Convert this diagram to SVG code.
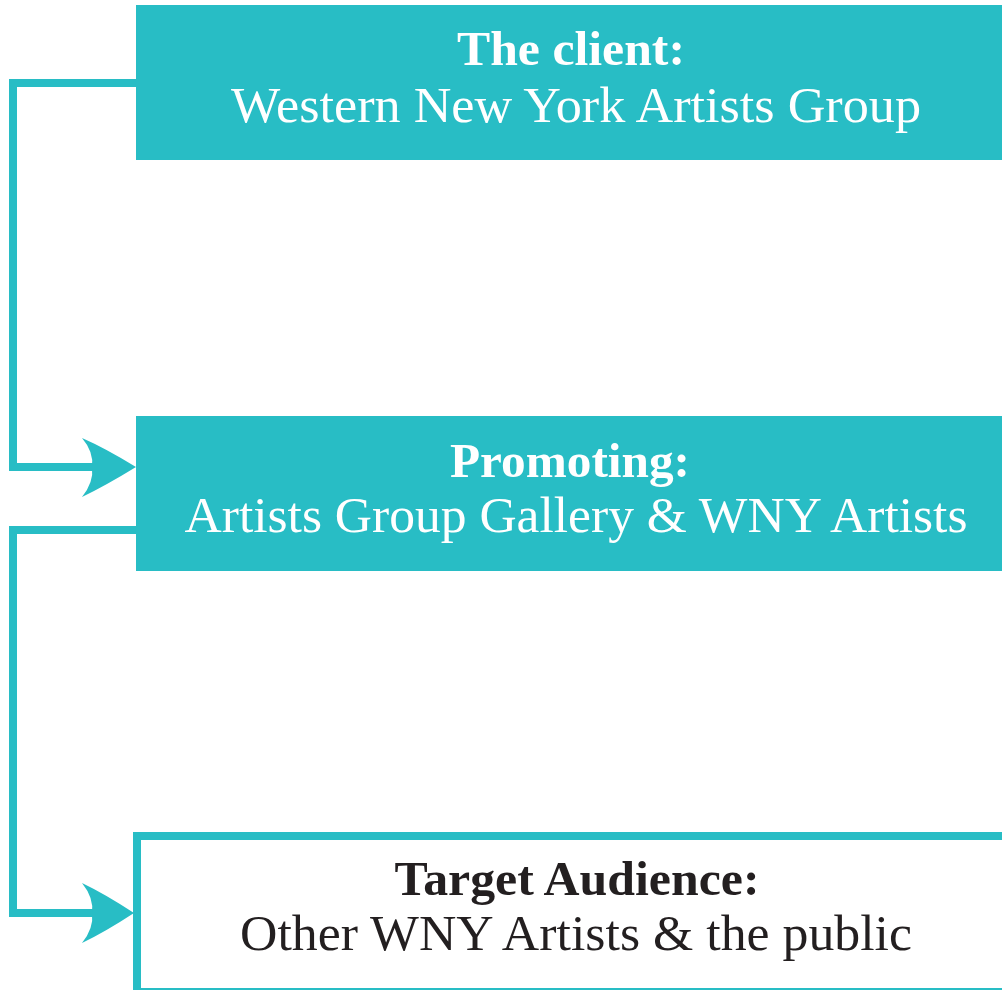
<svg xmlns="http://www.w3.org/2000/svg" width="1002" height="990" viewBox="0 0 1002 990">
<style>
.box{fill:#28bdc5}
.obox{fill:#fff;stroke:#28bdc5;stroke-width:8}
.t{font-family:"Liberation Serif",serif;text-anchor:middle}
.b{font-weight:bold;font-size:48px}
.r{font-size:51px}
.w{fill:#fff}
.k{fill:#231f20}
.con{fill:none;stroke:#28bdc5;stroke-width:8}
.ah{fill:#28bdc5}
</style>
<rect width="1002" height="990" fill="#fff"/>
<g id="connectors">
<polyline class="con" points="136,83 13,83 13,467 96,467"/>
<path class="ah" d="M136,467 Q105,448 82,438 Q94,452 92,467 Q94,482 82,497 Q105,486 136,467 Z"/>
<polyline class="con" points="136,530 13,530 13,913 96,913"/>
<path class="ah" d="M134,913 Q105,894 82,883 Q94,898 92,913 Q94,928 82,943 Q105,932 134,913 Z"/>
</g>
<g id="client">
<rect class="box" x="136" y="5" width="870" height="155"/>
<text class="t b w" x="571" y="65" textLength="228" lengthAdjust="spacingAndGlyphs">The client:</text>
<text class="t r w" x="576" y="122" textLength="690" lengthAdjust="spacingAndGlyphs">Western New York Artists Group</text>
</g>
<g id="promoting">
<rect class="box" x="136" y="416" width="870" height="155"/>
<text class="t b w" x="570" y="477" textLength="240" lengthAdjust="spacingAndGlyphs">Promoting:</text>
<text class="t r w" x="576" y="532" textLength="783" lengthAdjust="spacingAndGlyphs">Artists Group Gallery &amp; WNY Artists</text>
</g>
<g id="audience">
<rect class="obox" x="137" y="836" width="880" height="156"/>
<text class="t b k" x="577" y="895" textLength="365" lengthAdjust="spacingAndGlyphs">Target Audience:</text>
<text class="t r k" x="576" y="950" textLength="672" lengthAdjust="spacingAndGlyphs">Other WNY Artists &amp; the public</text>
</g>
</svg>
